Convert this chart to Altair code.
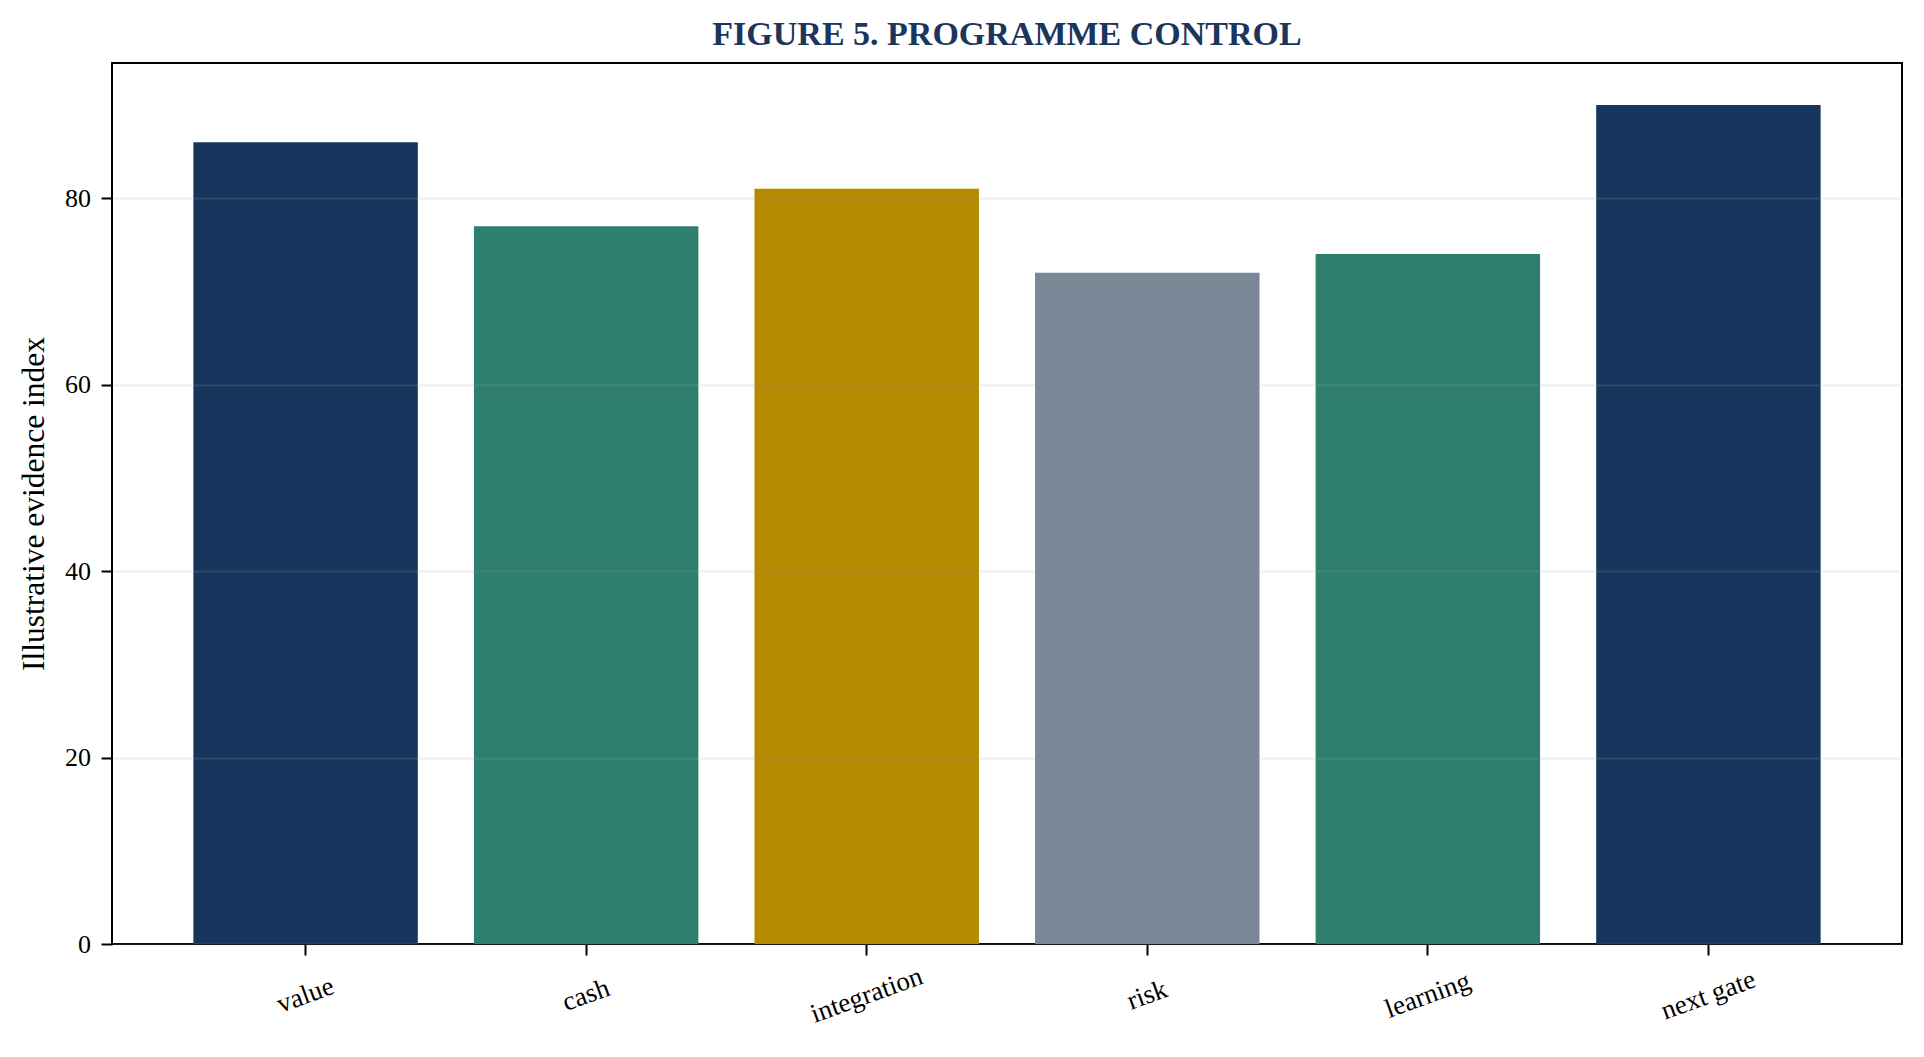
import altair as alt
import pandas as pd

categories = ["value", "cash", "integration", "risk", "learning", "next gate"]
scores = [86, 77, 81, 72, 74, 90]
y_ticks = [0, 20, 40, 60, 80]

# palette repeats across the bars
bar_colors = ["#18365d", "#2f7f6f", "#b48a00", "#7a8796", "#2f7f6f", "#18365d"]

FONT = "Liberation Serif"
NAVY = "#1b365d"

df = pd.DataFrame({"Area": categories, "Score": scores})

chart = alt.Chart(df).mark_bar().encode(
    x=alt.X(
        "Area:N", sort=categories, title=None,
        scale=alt.Scale(paddingInner=0.2, paddingOuter=0.29),
        axis=alt.Axis(
            labelAngle=-20, labelAlign="center", labelBaseline="middle",
            labelPadding=40, labelFont=FONT, labelFontSize=27, labelColor="black",
            tickSize=11, tickWidth=2, tickColor="black",
            domain=False, grid=False,
        ),
    ),
    y=alt.Y(
        "Score:Q",
        scale=alt.Scale(domain=[0, 94.5], nice=False, zero=True),
        axis=alt.Axis(
            title="Illustrative evidence index",
            values=y_ticks, format="d",
            labelFont=FONT, labelFontSize=26, labelColor="black", labelPadding=10.5,
            tickSize=11, tickWidth=2, tickColor="black",
            domain=False,
            grid=True, gridColor="#a0a0a0", gridOpacity=0.18, gridWidth=1.8,
            titleFont=FONT, titleFontSize=31.5, titleFontWeight="normal", titleColor="black",
            titleAngle=-90, titleAlign="center", titleBaseline="alphabetic",
            titleX=-68.4, titleY=440.5,
            zindex=1,
        ),
    ),
    color=alt.Color(
        "Area:N", legend=None,
        scale=alt.Scale(domain=categories, range=bar_colors),
    ),
).properties(
    width=1790,
    height=881,
    title=alt.Title(
        "FIGURE 5. PROGRAMME CONTROL",
        font=FONT, fontSize=34, fontWeight="bold", color=NAVY,
        anchor="middle", frame="group", offset=11,
    ),
    autosize=alt.AutoSizeParams(type="none"),
    padding={"left": 104, "top": 55, "right": 10, "bottom": 100},
).configure_view(
    stroke="black", strokeWidth=2
)

chart.save("out.html", embed_options={"renderer": "svg", "actions": False})
